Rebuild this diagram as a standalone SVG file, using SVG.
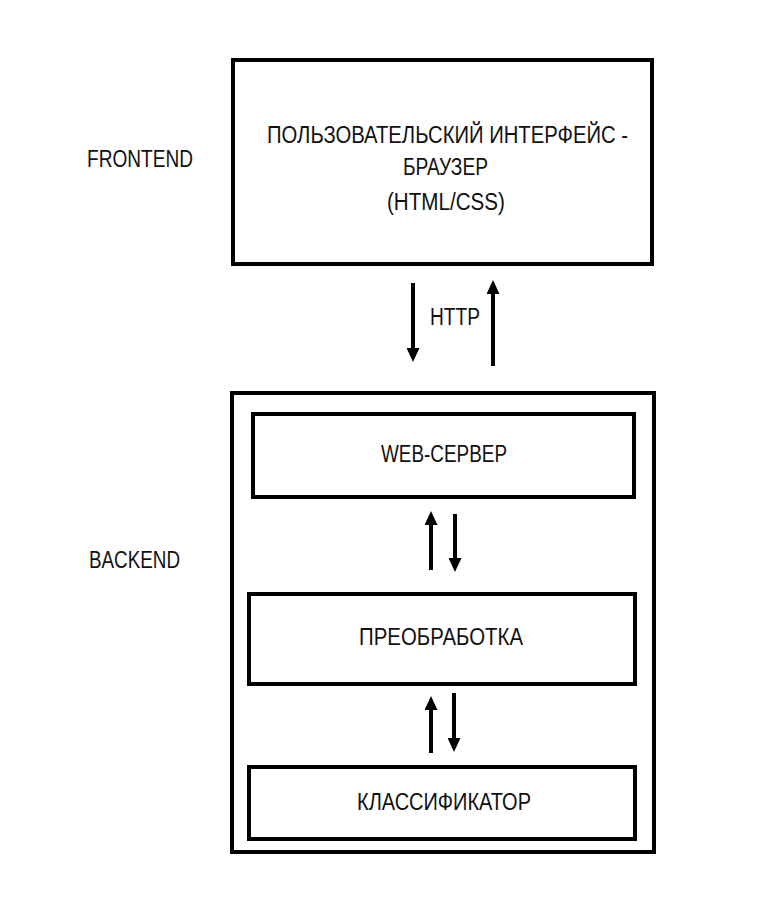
<svg xmlns="http://www.w3.org/2000/svg" width="780" height="897" viewBox="0 0 780 897">
<style>
.box{fill:#fff;stroke:#000;stroke-width:4}
.t{font-family:"Liberation Sans","DejaVu Sans",sans-serif;font-size:23px;fill:#111}
.c{stroke:#000;stroke-width:4;fill:none}
</style>
<defs>
<marker id="ah" markerUnits="userSpaceOnUse" markerWidth="14" markerHeight="13" viewBox="0 0 14 13" refX="3" refY="6.5" orient="auto">
<path d="M0,0 L14,6.5 L0,13 z" fill="#000"/>
</marker>
</defs>
<rect width="780" height="897" fill="#fff"/>
<g id="label-frontend"><text class="t" x="87" y="167" textLength="106" lengthAdjust="spacingAndGlyphs">FRONTEND</text></g>
<g id="label-backend"><text class="t" x="89" y="568" textLength="91" lengthAdjust="spacingAndGlyphs">BACKEND</text></g>
<g id="browser">
<rect class="box" x="233" y="60" width="419" height="204"/>
<text class="t" x="267" y="143" textLength="361" lengthAdjust="spacingAndGlyphs">ПОЛЬЗОВАТЕЛЬСКИЙ ИНТЕРФЕЙС -</text>
<text class="t" x="403" y="175" textLength="85" lengthAdjust="spacingAndGlyphs">БРАУЗЕР</text>
<text class="t" x="387" y="210" textLength="118" lengthAdjust="spacingAndGlyphs">(HTML/CSS)</text>
</g>
<g id="backend">
<rect class="box" x="232" y="393" width="422" height="459"/>
</g>
<g id="webserver">
<rect class="box" x="253" y="414" width="381" height="83"/>
<text class="t" x="381" y="462" textLength="126" lengthAdjust="spacingAndGlyphs">WEB-СЕРВЕР</text>
</g>
<g id="preprocessing">
<rect class="box" x="249" y="594" width="386" height="90"/>
<text class="t" x="359" y="645" textLength="164" lengthAdjust="spacingAndGlyphs">ПРЕОБРАБОТКА</text>
</g>
<g id="classifier">
<rect class="box" x="249" y="767" width="386" height="72"/>
<text class="t" x="357" y="810" textLength="174" lengthAdjust="spacingAndGlyphs">КЛАССИФИКАТОР</text>
</g>
<g id="connectors">
<line class="c" x1="413" y1="283" x2="413" y2="351" marker-end="url(#ah)"/>
<line class="c" x1="493" y1="366" x2="493" y2="291" marker-end="url(#ah)"/>
<text class="t" x="430" y="325" textLength="50" lengthAdjust="spacingAndGlyphs">HTTP</text>
<line class="c" x1="431" y1="570" x2="431" y2="522" marker-end="url(#ah)"/>
<line class="c" x1="455" y1="514" x2="455" y2="561" marker-end="url(#ah)"/>
<line class="c" x1="431" y1="753" x2="431" y2="707" marker-end="url(#ah)"/>
<line class="c" x1="454" y1="693" x2="454" y2="741" marker-end="url(#ah)"/>
</g>
</svg>
